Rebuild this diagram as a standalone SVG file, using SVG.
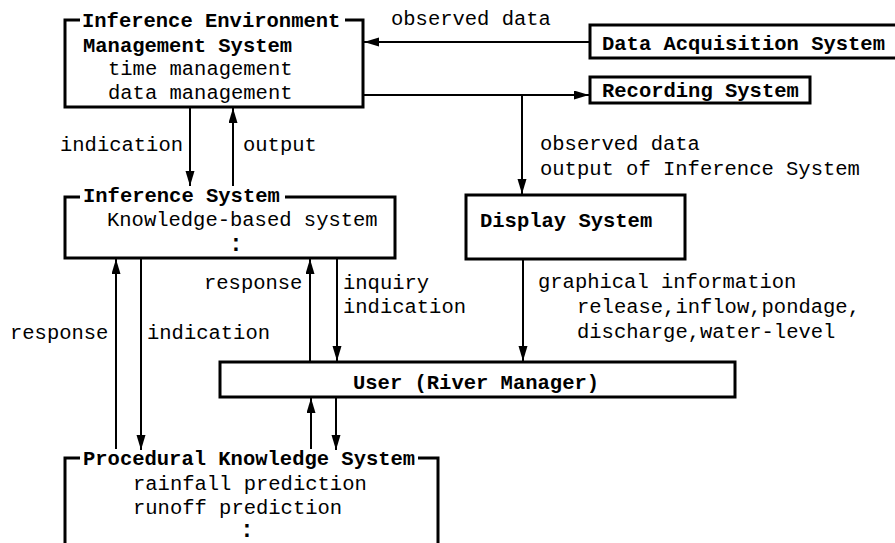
<svg xmlns="http://www.w3.org/2000/svg" width="895" height="543" viewBox="0 0 895 543">
<style>
.t{font-family:"Liberation Mono","Courier New",monospace;font-size:20.5px;fill:#000}
.b{font-weight:bold}
.d{font-size:23px;text-anchor:middle;font-weight:bold}
.box{fill:none;stroke:#000;stroke-width:3}
.ln{fill:none;stroke:#000;stroke-width:2}
</style>
<defs>
<marker id="ah" markerUnits="userSpaceOnUse" markerWidth="16" markerHeight="10" refX="15" refY="4.5" orient="auto">
<path d="M0,0 L15,4.5 L0,9 z" fill="#000"/>
</marker>
</defs>
<rect width="895" height="543" fill="#fff"/>

<g id="iems">
<path class="box" d="M80,20 H65 V107 H363 V20 H345"/>
<text class="t b" x="82" y="27">Inference Environment</text>
<text class="t b" x="83" y="52">Management System</text>
<text class="t" x="108" y="75">time management</text>
<text class="t" x="108" y="99">data management</text>
</g>

<g id="das">
<rect class="box" x="590" y="25" width="310" height="33"/>
<text class="t b" x="602" y="50">Data Acquisition System</text>
</g>

<g id="recording">
<rect class="box" x="590" y="77" width="220" height="26"/>
<text class="t b" x="602" y="97">Recording System</text>
</g>

<g id="display">
<rect class="box" x="466" y="195" width="219" height="64"/>
<text class="t b" x="480" y="227">Display System</text>
</g>

<g id="inference">
<path class="box" d="M80,197 H65 V258 H395 V197 H285"/>
<text class="t b" x="83" y="202">Inference System</text>
<text class="t" x="107" y="226">Knowledge-based system</text>
<text class="t d" x="236" y="251">:</text>
</g>

<g id="user">
<rect class="box" x="220" y="362" width="515" height="35"/>
<text class="t b" x="353" y="389">User (River Manager)</text>
</g>

<g id="pks">
<path class="box" d="M80,458 H65 V545 M418,458 H438 V545"/>
<text class="t b" x="83" y="465">Procedural Knowledge System</text>
<text class="t" x="133" y="490">rainfall prediction</text>
<text class="t" x="133" y="514">runoff prediction</text>
<text class="t d" x="247" y="537">:</text>
</g>

<g id="connectors">
<line class="ln" x1="589" y1="42" x2="364" y2="42" marker-end="url(#ah)"/>
<line class="ln" x1="363" y1="95" x2="589" y2="95" marker-end="url(#ah)"/>
<line class="ln" x1="522" y1="95" x2="522" y2="194" marker-end="url(#ah)"/>
<line class="ln" x1="523" y1="259" x2="523" y2="361" marker-end="url(#ah)"/>
<line class="ln" x1="190" y1="107" x2="190" y2="186" marker-end="url(#ah)"/>
<line class="ln" x1="233" y1="186" x2="233" y2="108" marker-end="url(#ah)"/>
<line class="ln" x1="310" y1="362" x2="310" y2="259" marker-end="url(#ah)"/>
<line class="ln" x1="337" y1="258" x2="337" y2="361" marker-end="url(#ah)"/>
<line class="ln" x1="116" y1="449" x2="116" y2="259" marker-end="url(#ah)"/>
<line class="ln" x1="141" y1="258" x2="141" y2="450" marker-end="url(#ah)"/>
<line class="ln" x1="311" y1="449" x2="311" y2="398" marker-end="url(#ah)"/>
<line class="ln" x1="336" y1="397" x2="336" y2="450" marker-end="url(#ah)"/>
</g>

<g id="labels">
<text class="t" x="391" y="25">observed data</text>
<text class="t" x="540" y="150">observed data</text>
<text class="t" x="540" y="175">output of Inference System</text>
<text class="t" x="538" y="288">graphical information</text>
<text class="t" x="577" y="313">release,inflow,pondage,</text>
<text class="t" x="577" y="338">discharge,water-level</text>
<text class="t" x="60" y="151">indication</text>
<text class="t" x="243" y="151">output</text>
<text class="t" x="204" y="289">response</text>
<text class="t" x="343" y="289">inquiry</text>
<text class="t" x="343" y="313">indication</text>
<text class="t" x="10" y="339">response</text>
<text class="t" x="147" y="339">indication</text>
</g>
</svg>
